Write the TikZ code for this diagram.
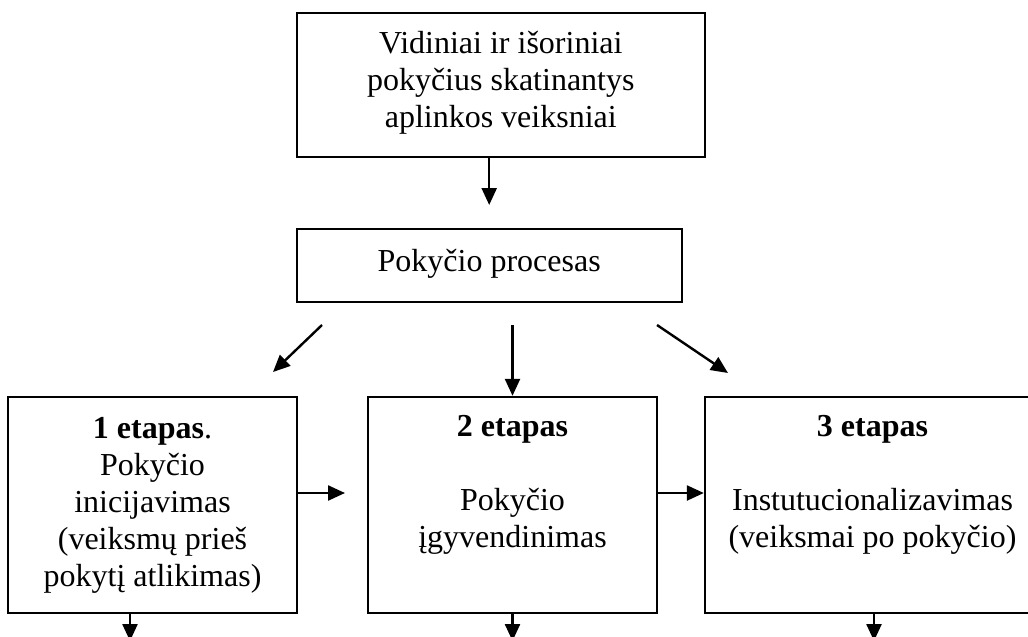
\documentclass[tikz,border=0pt]{standalone}
\usepackage{fontspec}
\setmainfont{Liberation Serif}
\usetikzlibrary{arrows.meta,calc}
\begin{document}
\begin{tikzpicture}[x=1pt,y=-1pt,
  every node/.style={font=\fontsize{32}{37}\selectfont},
  box/.style={draw,line width=2.4pt,inner sep=0pt},
  txt/.style={align=center,inner sep=0pt},
  arr/.style={line width=2.4pt,-{Triangle[length=17pt,width=15pt]}}]
\useasboundingbox (0,0) rectangle (1028,637);
\clip (0,0) rectangle (1028,637);
% boxes
\node[box,minimum width=408pt,minimum height=144pt] (top) at (500.8,85) {};
\node[box,minimum width=385pt,minimum height=73pt] (proc) at (489.2,265.5) {};
\node[box,minimum width=289pt,minimum height=216pt] (s1) at (152.5,505) {};
\node[box,minimum width=289pt,minimum height=216pt] (s2) at (512.5,505) {};
\node[box,minimum width=335pt,minimum height=216pt] (s3) at (872.5,505) {};
% texts
\node[txt] (toptext) at (500.8,83) {Vidiniai ir išoriniai\\pokyčius skatinantys\\aplinkos veiksniai};
\node[txt] (proctext) at (489.2,264) {Pokyčio procesas};
\node[txt] (s1text) at (152.5,505) {\textbf{1 etapas}.\\Pokyčio\\inicijavimas\\(veiksmų prieš\\pokytį atlikimas)};
\node[txt] (s2text) at (512.5,485) {\textbf{2 etapas}\\[37pt]Pokyčio\\įgyvendinimas};
\node[txt] (s3text) at (872.5,485) {\textbf{3 etapas}\\[37pt]Instutucionalizavimas\\(veiksmai po pokyčio)};
% free ends of the connectors
\coordinate (a0) at (489.2,205);
\coordinate (d1s) at (322,325);
\coordinate (d1e) at (273,372);
\coordinate (d2s) at (512.5,325);
\coordinate (d3s) at (657,325);
\coordinate (d3e) at (728,373);
\coordinate (h1e) at (345,493);
\coordinate (b1) at (130,641);
\coordinate (b2) at (512.5,641);
\coordinate (b3) at (874,641);
% connectors
\draw[arr] (top.south -| proc.north) -- (a0);
\draw[arr] (d1s) -- (d1e);
\draw[arr] (d2s) -- (s2.north);
\draw[arr] (d3s) -- (d3e);
\draw[arr] (s1.east |- h1e) -- (h1e);
\draw[arr] (s2.east |- h1e) -- (s3.west |- h1e);
\draw[arr] (s1.south -| b1) -- (b1);
\draw[arr] (s2.south) -- (b2);
\draw[arr] (s3.south -| b3) -- (b3);
\end{tikzpicture}
\end{document}
